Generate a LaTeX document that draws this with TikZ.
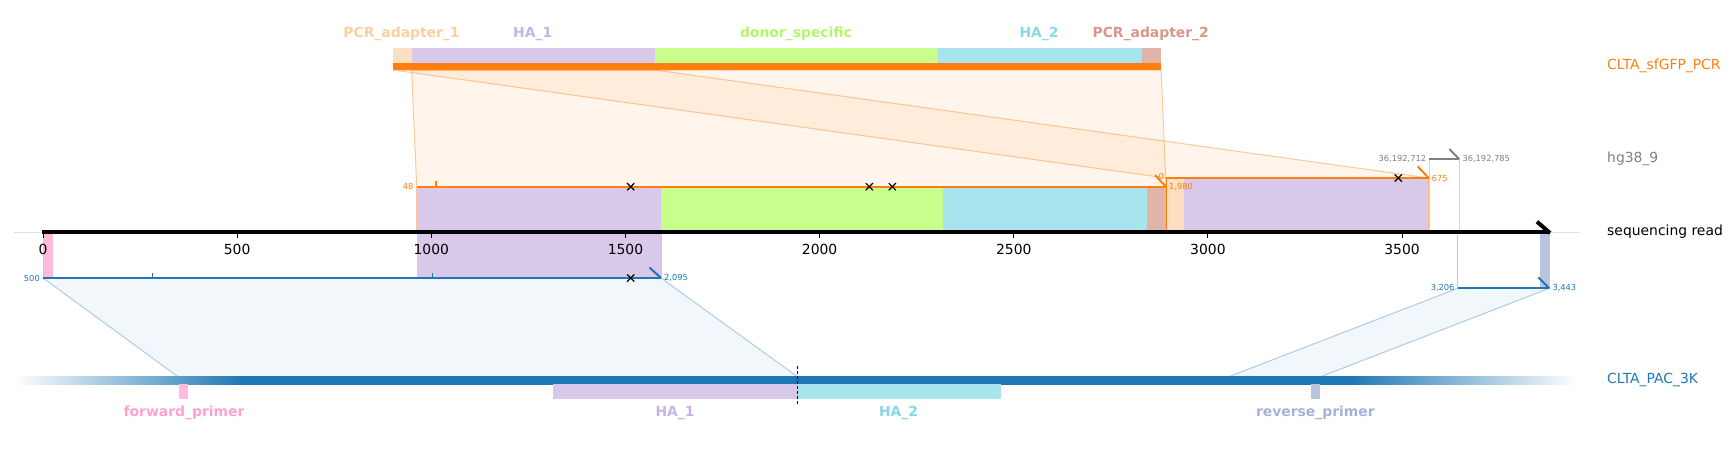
\documentclass[tikz,border=0pt]{standalone}
\usepackage{fontspec}
\setmainfont{DejaVu Sans}
\usepackage{tikz}
\usetikzlibrary{positioning,arrows.meta,calc}
\definecolor{pcrorange}{HTML}{FF7F0E}
\definecolor{pacblue}{HTML}{1F77B4}
\definecolor{hggray}{HTML}{7F7F7F}
\definecolor{adaptAbox}{HTML}{FBDFC0}
\definecolor{adaptAtxt}{HTML}{FBCFA0}
\definecolor{haAbox}{HTML}{D8C8EA}
\definecolor{haAtxt}{HTML}{C8B4E4}
\definecolor{donorbox}{HTML}{C8FF8C}
\definecolor{donortxt}{HTML}{B4F56E}
\definecolor{haBbox}{HTML}{A8E4EE}
\definecolor{haBtxt}{HTML}{86D8E6}
\definecolor{adaptBbox}{HTML}{E0B4A8}
\definecolor{adaptBtxt}{HTML}{D8968A}
\definecolor{fwdbox}{HTML}{FFBADC}
\definecolor{fwdtxt}{HTML}{FFA0D0}
\definecolor{revbox}{HTML}{B8C4E0}
\definecolor{revtxt}{HTML}{A4B2D8}
\pgfdeclarehorizontalshading{pacfade}{100bp}{color(0bp)=(white); color(25bp)=(white); color(32.3bp)=(pacblue); color(67.7bp)=(pacblue); color(75bp)=(white); color(100bp)=(white)}
\newcommand{\bigtxt}{\fontsize{13.9}{16}\selectfont}
\newcommand{\tinytxt}{\fontsize{8.3}{10}\selectfont}

\begin{document}
\begin{tikzpicture}[x=1pt, y=-1pt,
    feat/.style={font=\bigtxt\bfseries, inner sep=0pt},
    track/.style={font=\bigtxt, anchor=west, inner sep=0pt},
    endlab/.style={font=\tinytxt, inner sep=0pt},
    orangelink/.style={fill=pcrorange, fill opacity=0.08, draw=pcrorange, draw opacity=0.4, line width=1pt},
    bluelink/.style={fill=pacblue, fill opacity=0.06, draw=pacblue, draw opacity=0.35, line width=1pt},
    cross/.style={black, line width=1.2pt}]
    \useasboundingbox (0,0) rectangle (1733,448);
    \coordinate (pcr0) at (393.3,70);
    \coordinate (pcr48) at (411.6,70);
    \coordinate (pcr675) at (655,70);
    \coordinate (pcrend) at (1161.2,70);
    \coordinate (hgAs) at (416.7,186.7);
    \coordinate (hgAe) at (1166,186.7);
    \coordinate (hgBs) at (1166,178);
    \coordinate (hgBe) at (1428.7,178);
    \coordinate (hgGs) at (1429.3,159);
    \coordinate (hgGe) at (1459.3,159);
    \coordinate (pacAs) at (43,278);
    \coordinate (pacAe) at (661,278);
    \coordinate (pacBs) at (1457.7,288.3);
    \coordinate (pacBe) at (1549.3,288.3);
    \coordinate (plA) at (178,376.7);
    \coordinate (plB) at (797.5,376.7);
    \coordinate (plC) at (1228.8,376.7);
    \coordinate (plD) at (1320.8,376.7);
    \filldraw[orangelink] (pcr48) -- (pcrend) -- (hgAe) -- (hgAs) -- cycle;
    \filldraw[orangelink] (pcr0) -- (pcr675) -- (hgBe) -- (hgBs) -- cycle;
    \filldraw[bluelink] (pacAs) -- (pacAe) -- (plB) -- (plA) -- cycle;
    \filldraw[bluelink] (pacBs) -- (pacBe) -- (plD) -- (plC) -- cycle;
    \fill[adaptAbox] (393.3,47.7) rectangle (412,63.3);
    \fill[haAbox] (412,47.7) rectangle (655,63.3);
    \fill[donorbox] (655,47.7) rectangle (937.7,63.3);
    \fill[haBbox] (937.7,47.7) rectangle (1142,63.3);
    \fill[adaptBbox] (1142,47.7) rectangle (1161.2,63.3);
    \fill[pcrorange] (393.3,63.3) rectangle (1161.2,70);
    \node[feat, adaptAtxt] (adaptAlab) at (401.5,34) {PCR\_adapter\_1};
    \node[feat, haAtxt] (haAlab) at (532.7,34) {HA\_1};
    \node[feat, donortxt] (donorlab) at (796,34) {donor\_specific};
    \node[feat, haBtxt] (haBlab) at (1039,34) {HA\_2};
    \node[feat, adaptBtxt] (adaptBlab) at (1150.7,34) {PCR\_adapter\_2};
    \fill[haAbox] (416.7,186.7) rectangle (661,232);
    \fill[donorbox] (661,186.7) rectangle (943.3,232);
    \fill[haBbox] (943.3,186.7) rectangle (1146.7,232);
    \fill[adaptBbox] (1146.7,186.7) rectangle (1166,232);
    \fill[adaptAbox] (1166,178) rectangle (1184,232);
    \fill[haAbox] (1184,178) rectangle (1428.7,232);
    \fill[haAbox] (416.7,232) rectangle (661,278);
    \fill[fwdbox] (43.3,232) rectangle (52.7,278);
    \fill[revbox] (1540,232) rectangle (1549.3,288.3);
    \draw[pcrorange!45, line width=1pt] (hgAs) -- (416.7,232);
    \draw[pcrorange, line width=1pt] (hgBs) -- (1166,232);
    \draw[pcrorange!55, line width=1pt] (hgBe) -- (1428.7,232);
    \draw[hggray!35, line width=1pt] (hgGs) -- (1429.3,232);
    \draw[hggray!35, line width=1pt] (hgGe) -- (1459.3,232);
    \draw[pacblue!35, line width=1pt] (43,232) -- (pacAs);
    \draw[pacblue!35, line width=1pt] (661,232) -- (pacAe);
    \draw[pacblue!35, line width=1pt] (1457.7,232) -- (pacBs);
    \draw[pacblue!35, line width=1pt] (1549.3,232) -- (pacBe);
    \draw[black!12, line width=1pt] (14,232) -- (1580,232);
    \draw[black, line width=4pt] (42,232.3) -- (1550,232.3);
    \draw[black, line width=4pt] (1550,233) -- (1537,221.7);
    \foreach \v in {0,500,...,3500} {
      \draw[black, line width=1pt] ({43+0.3883*\v},233) -- ++(0,5);
      \node[font=\bigtxt, inner sep=0pt] (tick\v) at ({43+0.3883*\v},249) {\v};
    }
    \draw[pcrorange, line width=2pt] (hgAs) -- (hgAe);
    \draw[pcrorange, line width=2pt] (hgBs) -- (hgBe);
    \draw[pcrorange, line width=1.5pt] (436,186.7) -- ++(0,-6);
    \node[endlab, pcrorange, anchor=east] (lab48) at ($(hgAs)+(-3,0)$) {48};
    \node[endlab, pcrorange, anchor=west] (lab1980) at ($(hgAe)+(3,0)$) {1,980};
    \node[endlab, pcrorange, anchor=east] (lab0) at ($(hgBs)+(-2,-2)$) {0};
    \node[endlab, pcrorange, anchor=west] (lab675) at ($(hgBe)+(3,0)$) {675};
    \draw[pcrorange, line width=2pt] (hgAe) -- ++(-11,-11.5);
    \draw[pcrorange, line width=2pt] (hgBe) -- ++(-11,-11.5);
    \draw[hggray, line width=2pt] (hgGs) -- (hgGe);
    \draw[hggray, line width=2pt] (hgGe) -- ++(-10,-10);
    \node[endlab, hggray, anchor=east] (labg1) at ($(hgGs)+(-3,0)$) {36,192,712};
    \node[endlab, hggray, anchor=west] (labg2) at ($(hgGe)+(3,0)$) {36,192,785};
    \draw[pacblue, line width=2pt] (pacAs) -- (pacAe);
    \draw[pacblue, line width=1.5pt] (152.7,278) -- ++(0,-5);
    \draw[pacblue, line width=1.5pt] (432.7,278) -- ++(0,-5);
    \draw[pacblue, line width=2pt] (pacAe) -- ++(-11.5,-10.5);
    \node[endlab, pacblue, anchor=east] (lab500) at ($(pacAs)+(-3,0)$) {500};
    \node[endlab, pacblue, anchor=west] (lab2095) at ($(pacAe)+(3,0)$) {2,095};
    \draw[pacblue, line width=2pt] (pacBs) -- (pacBe);
    \draw[pacblue, line width=2pt] (pacBe) -- ++(-11,-11);
    \node[endlab, pacblue, anchor=east] (lab3206) at ($(pacBs)+(-3,0)$) {3,206};
    \node[endlab, pacblue, anchor=west] (lab3443) at ($(pacBe)+(3,0)$) {3,443};
    \foreach \p in {(630.7,186.7),(869.3,186.7),(892.3,186.7),(1398.3,178),(630.7,278)} {
      \draw[cross] \p +(-3.6,-3.6) -- +(3.6,3.6) +(-3.6,3.6) -- +(3.6,-3.6);
    }
    \shade[shading=pacfade] (14,376.7) rectangle (1578,384);
    \fill[fwdbox] (179,384) rectangle (187.5,399);
    \fill[haAbox] (553,384) rectangle (797.5,399);
    \fill[haBbox] (797.5,384) rectangle (1000.7,399);
    \fill[revbox] (1311,384) rectangle (1320,399);
    \draw[black, line width=1pt, dash pattern=on 3pt off 2pt] (797.5,366) -- (797.5,404.3);
    \node[feat, fwdtxt] (fwdlab) at (184,413) {forward\_primer};
    \node[feat, haAtxt] (haAlabB) at (675,413) {HA\_1};
    \node[feat, haBtxt] (haBlabB) at (898.5,413) {HA\_2};
    \node[feat, revtxt] (revlab) at (1315.4,413) {reverse\_primer};
    \node[track, pcrorange] (pcrname) at (1607,66) {CLTA\_sfGFP\_PCR};
    \node[track, hggray] (hgname) at (1607,159) {hg38\_9};
    \node[track] (readname) at (1607,232) {sequencing read};
    \node[track, pacblue] (pacname) at (1607,380) {CLTA\_PAC\_3K};
\end{tikzpicture}
\end{document}
